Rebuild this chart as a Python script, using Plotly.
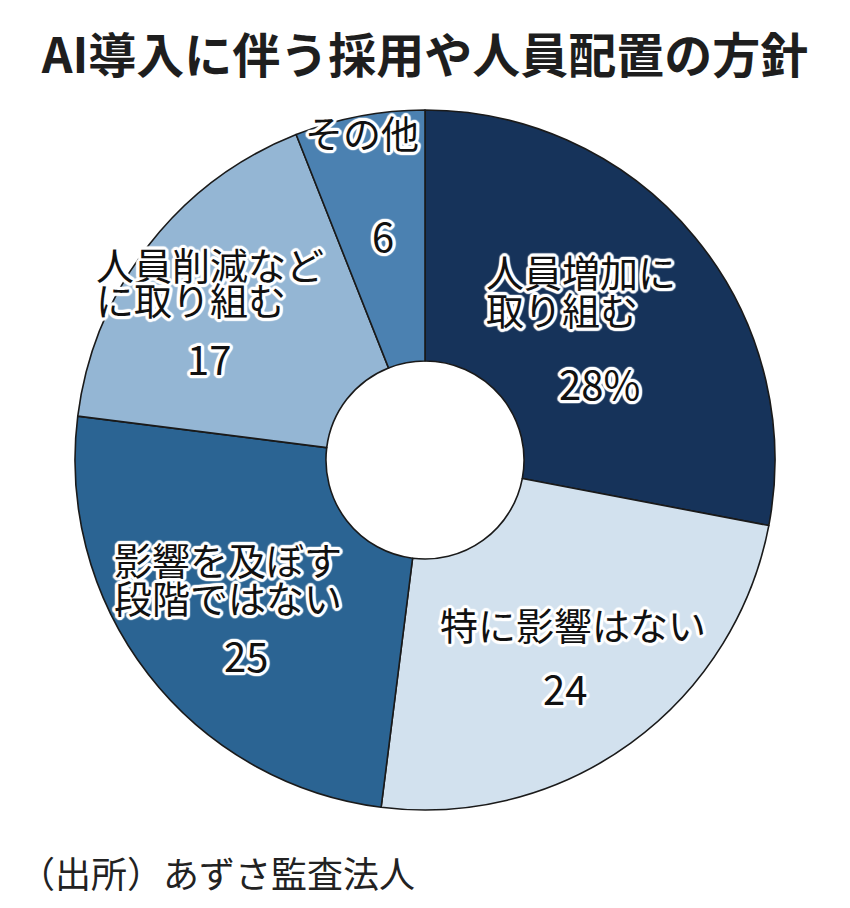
import plotly.graph_objects as go

# ---- data ----
categories = ["人員増加に取り組む", "特に影響はない", "影響を及ぼす段階ではない", "人員削減などに取り組む", "その他"]
values = [28, 24, 25, 17, 6]
label_lines = [["人員増加に", "取り組む"], ["特に影響はない"], ["影響を及ぼす", "段階ではない"], ["人員削減など", "に取り組む"], ["その他"]]
value_texts = ["28%", "24", "25", "17", "6"]
title_text = "AI導入に伴う採用や人員配置の方針"
source_text = "（出所）あずさ監査法人"

# ---- style ----
W, H = 850, 908
colors = ["#16335a", "#d2e1ee", "#2b6493", "#94b6d4", "#4b81b1"]
FONT = "Noto Sans CJK JP"
halo = ", ".join(
    f"white {dx}px {dy}px 1px"
    for dx, dy in [(3, 0), (-3, 0), (0, 3), (0, -3), (2, 2), (-2, -2), (2, -2), (-2, 2),
                   (3, 1), (-3, 1), (3, -1), (-3, -1), (1, 3), (1, -3), (-1, 3), (-1, -3)]
)

# label placements in pixels: (x, y, anchor) per line, then value position
name_pos = [
    [(484, 270, "left"), (484, 308, "left")],
    [(573, 623, "center")],
    [(112, 558, "left"), (112, 596, "left")],
    [(94, 263, "left"), (94, 299, "left")],
    [(362, 131, "center")],
]
value_pos = [(599, 383), (565, 688), (246, 655), (209, 358), (383, 235)]

fig = go.Figure(
    go.Pie(
        labels=categories,
        values=values,
        sort=False,
        direction="clockwise",
        rotation=0,
        hole=0.283,
        marker=dict(colors=colors, line=dict(color="#1a1a1a", width=1.6)),
        textinfo="none",
        hoverinfo="label+value",
        domain=dict(x=[75 / W, 775 / W], y=[1 - 810 / H, 1 - 110 / H]),
        showlegend=False,
    )
)

ann = []
lab_font = dict(family=FONT, size=38, color="#111111", shadow=halo)
for lines, poss, vt, vp in zip(label_lines, name_pos, value_texts, value_pos):
    for txt, (px, py, anc) in zip(lines, poss):
        ann.append(dict(text=txt, x=px / W, y=1 - py / H, xref="paper", yref="paper",
                        xanchor=anc, yanchor="middle", showarrow=False, font=lab_font))
    ann.append(dict(text=vt, x=vp[0] / W, y=1 - vp[1] / H, xref="paper", yref="paper",
                    xanchor="center", yanchor="middle", showarrow=False,
                    font=dict(family=FONT, size=40, color="#111111", shadow=halo)))

ann.append(dict(text=source_text, x=17 / W, y=1 - 872 / H, xref="paper", yref="paper",
                xanchor="left", yanchor="middle", showarrow=False,
                font=dict(family=FONT, size=36, color="#222222")))

fig.update_layout(
    width=W,
    height=H,
    margin=dict(l=0, r=0, t=0, b=0),
    paper_bgcolor="white",
    plot_bgcolor="white",
    title=dict(text=title_text, x=0.5, xanchor="center", y=1 - 56 / H, yanchor="middle",
               yref="container",
               font=dict(family=FONT, size=48, color="#1e1e1e", weight=700)),
    annotations=ann,
)

fig.write_html("out.html", config={"displayModeBar": False},
               post_script="document.body.style.margin='0';")
